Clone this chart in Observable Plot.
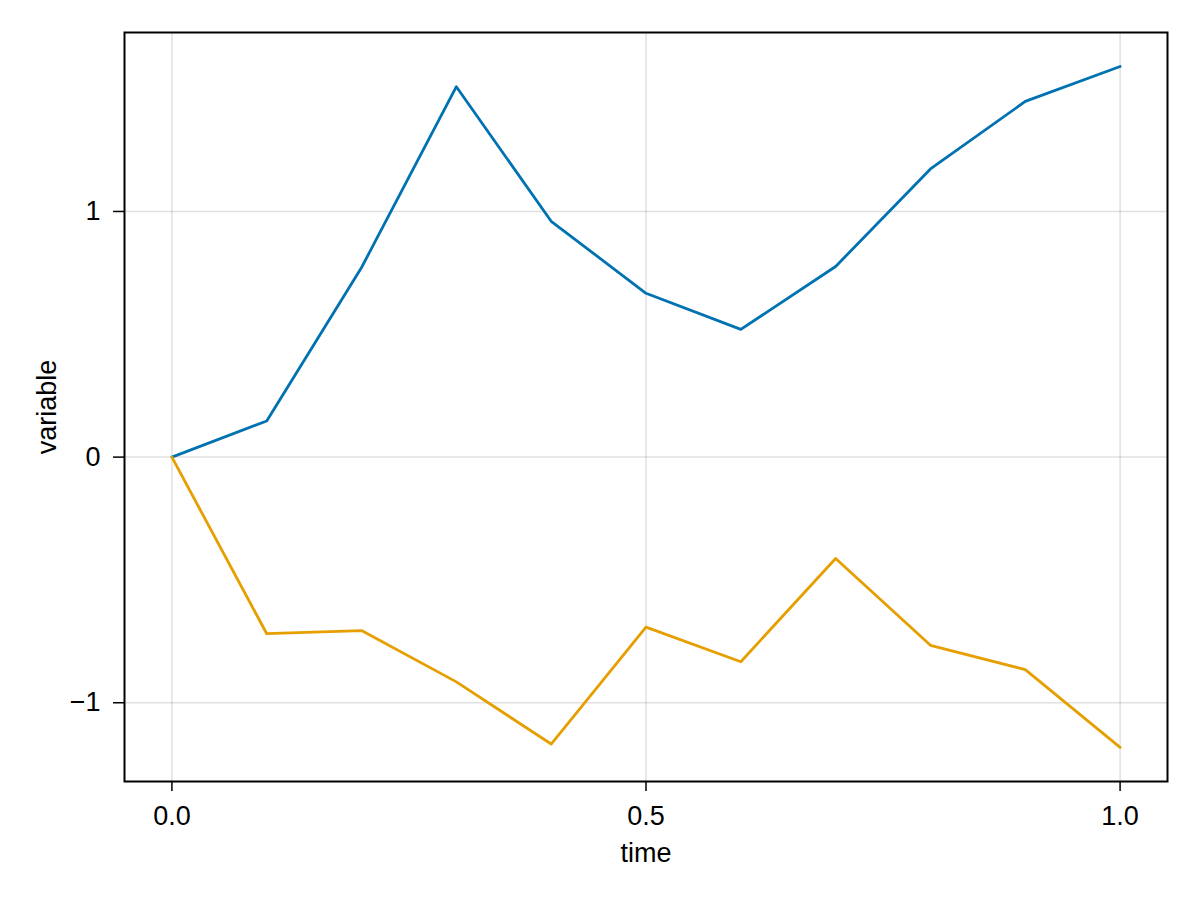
<!DOCTYPE html>
<html>
<head>
<meta charset="utf-8">
<script src="https://cdn.jsdelivr.net/npm/d3@7"></script>
<script src="https://cdn.jsdelivr.net/npm/@observablehq/plot@0.6"></script>
<style>
  html, body { margin: 0; padding: 0; background: #fff; }
  #chart svg { display: block; }
</style>
</head>
<body>
<div id="chart"></div>
<script>
const time = [0, 0.1, 0.2, 0.3, 0.4, 0.5, 0.6, 0.7, 0.8, 0.9, 1.0];
const seriesA = [0, 0.147, 0.772, 1.508, 0.960, 0.667, 0.520, 0.776, 1.173, 1.448, 1.590];
const seriesB = [0, -0.719, -0.706, -0.915, -1.168, -0.692, -0.833, -0.413, -0.766, -0.865, -1.182];
const xTicks = [0, 0.5, 1.0];
const yTicks = [-1, 0, 1];

const rowsA = time.map((t, i) => ({time: t, value: seriesA[i]}));
const rowsB = time.map((t, i) => ({time: t, value: seriesB[i]}));

// Autolimits with 5% margin on each side
const pad = (lo, hi) => { const m = (hi - lo) * 0.05; return [lo - m, hi + m]; };
const allY = seriesA.concat(seriesB);
const xDom = pad(d3.min(time), d3.max(time));
const yDom = pad(d3.min(allY), d3.max(allY));

const font = "'Liberation Sans', Arial, Helvetica, sans-serif";
const fs = 27;

const chart = Plot.plot({
  width: 1200,
  height: 900,
  marginLeft: 124,
  marginRight: 33,
  marginTop: 32,
  marginBottom: 119,
  style: {fontFamily: font, fontSize: fs + "px", background: "#fff", color: "#000"},
  x: {domain: xDom},
  y: {domain: yDom},
  marks: [
    Plot.gridX(xTicks, {stroke: "#000", strokeOpacity: 0.12, strokeWidth: 1.5}),
    Plot.gridY(yTicks, {stroke: "#000", strokeOpacity: 0.12, strokeWidth: 1.5}),
    Plot.line(rowsA, {x: "time", y: "value", stroke: "#0072B2", strokeWidth: 2.8}),
    Plot.line(rowsB, {x: "time", y: "value", stroke: "#E69F00", strokeWidth: 2.8}),
    Plot.frame({stroke: "#000", strokeWidth: 2}),
    Plot.axisX(xTicks, {tickFormat: d3.format(".1f"), tickSize: 10, tickPadding: 14, fontSize: fs, label: null, stroke: "#000", strokeWidth: 1.5}),
    Plot.axisY(yTicks, {tickFormat: d3.format("d"), tickSize: 11, tickPadding: 13, fontSize: fs, label: null, stroke: "#000", strokeWidth: 1.5}),
    Plot.text(["time"], {frameAnchor: "bottom", dy: 72, textAnchor: "middle", lineAnchor: "middle", fontSize: fs, fill: "#000"}),
    Plot.text(["variable"], {frameAnchor: "left", dx: -77, rotate: -90, textAnchor: "middle", lineAnchor: "middle", fontSize: fs, fill: "#000"})
  ]
});
document.getElementById("chart").appendChild(chart);
</script>
</body>
</html>
